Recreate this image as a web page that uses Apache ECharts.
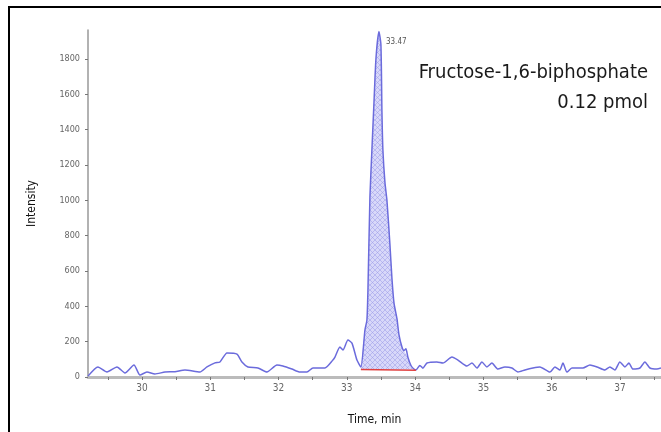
<!DOCTYPE html>
<html>
<head>
<meta charset="utf-8">
<script src="https://cdn.jsdelivr.net/npm/echarts@6/dist/echarts.min.js"></script>
<style>
  html, body { margin: 0; padding: 0; background: #fff; }
  #chart { width: 661px; height: 432px; }
</style>
</head>
<body>
<div id="chart"></div>
<script>
// chromatogram trace
var times = [29.21, 29.356, 29.488, 29.634, 29.751, 29.883, 29.971, 30.073, 30.19, 30.337,
  30.483, 30.63, 30.849, 30.952, 31.069, 31.142, 31.245, 31.391, 31.464, 31.552,
  31.698, 31.83, 31.977, 32.064, 32.196, 32.313, 32.416, 32.504, 32.679, 32.796,
  32.826, 32.899, 32.943, 33.016, 33.075, 33.148, 33.206, 33.265, 33.294, 33.309,
  33.338, 33.367, 33.397, 33.426, 33.47, 33.499, 33.514, 33.528, 33.558, 33.587,
  33.631, 33.66, 33.69, 33.734, 33.763, 33.807, 33.836, 33.865, 33.895, 33.939,
  33.982, 34.012, 34.07, 34.114, 34.173, 34.319, 34.407, 34.539, 34.627, 34.758,
  34.832, 34.905, 34.978, 35.051, 35.124, 35.212, 35.315, 35.417, 35.505, 35.608,
  35.725, 35.827, 35.974, 36.047, 36.12, 36.164, 36.223, 36.296, 36.457, 36.559,
  36.662, 36.779, 36.852, 36.925, 36.998, 37.072, 37.13, 37.189, 37.291, 37.364,
  37.438, 37.54, 37.6];
var intensity = [5, 57, 28, 57, 23, 68, 11, 28, 17, 28,
  30, 40, 28, 57, 80, 85, 136, 130, 85, 57,
  51, 28, 68, 62, 45, 28, 28, 51, 51, 96,
  113, 170, 153, 209, 192, 96, 57, 266, 323, 492,
  1019, 1285, 1550, 1800, 1955, 1880, 1500, 1285, 1100, 1000,
  750, 560, 420, 330, 240, 170, 150, 160, 110, 65,
  45, 40, 65, 50, 79, 85, 79, 113, 96, 62,
  79, 51, 85, 57, 79, 45, 57, 51, 28, 40,
  51, 57, 28, 57, 40, 79, 28, 51, 51, 68,
  57, 40, 57, 40, 85, 57, 79, 45, 51, 85,
  51, 45, 51];

var peakFrom = 33.206, peakTo = 34.012;
var peakTime = 33.47, peakLabel = '33.47';
var baseline = [43, 38];          // integration baseline at peakFrom / peakTo
var yTicks = [0, 200, 400, 600, 800, 1000, 1200, 1400, 1600, 1800];
var xTicks = [30, 31, 32, 33, 34, 35, 36, 37];
var xMinor = [29.5, 30, 30.5, 31, 31.5, 32, 32.5, 33, 33.5, 34, 34.5, 35, 35.5, 36, 36.5, 37, 37.5];
var compound = 'Fructose-1,6-biphosphate';
var amount = '0.12 pmol';

var trace = times.map(function(t, i) { return [t, intensity[i]]; });
var peak = trace.filter(function(p) { return p[0] >= peakFrom && p[0] <= peakTo; });
var apex = trace[times.indexOf(peakTime)];

// hatched fill for the integrated area
var pat = document.createElement('canvas');
pat.width = 5; pat.height = 5;
var g = pat.getContext('2d');
g.fillStyle = 'rgba(212,212,248,0.9)';
g.fillRect(0, 0, 5, 5);
g.strokeStyle = 'rgba(150,150,230,0.7)';
g.lineWidth = 0.7;
g.beginPath();
g.moveTo(0, 0); g.lineTo(5, 5);
g.moveTo(5, 0); g.lineTo(0, 5);
g.stroke();

var tickFont = "'Liberation Sans Narrow', 'DejaVu Sans Condensed', sans-serif";

var chart = echarts.init(document.getElementById('chart'));
chart.setOption({
  animation: false,
  backgroundColor: '#fff',
  grid: { left: 88, right: 0, top: 30, bottom: 55 },
  xAxis: {
    type: 'value',
    min: 29.21,
    max: 37.6,
    name: 'Time, min',
    nameLocation: 'middle',
    nameGap: 37,
    nameTextStyle: { fontFamily: tickFont, fontSize: 12, color: '#111' },
    axisLine: { lineStyle: { color: '#bbb', width: 3 } },
    axisTick: { customValues: xMinor, length: 3, lineStyle: { color: '#777' } },
    axisLabel: { customValues: xTicks, fontFamily: tickFont, fontSize: 10, color: '#666', margin: 6 },
    splitLine: { show: false }
  },
  yAxis: {
    type: 'value',
    min: 0,
    max: 1964,
    name: 'Intensity',
    nameLocation: 'middle',
    nameGap: 50,
    nameTextStyle: { fontFamily: tickFont, fontSize: 12, color: '#111' },
    axisLine: { show: true, lineStyle: { color: '#999', width: 1.5 } },
    axisTick: { customValues: yTicks, length: 3, lineStyle: { color: '#777' } },
    axisLabel: {
      customValues: yTicks, fontFamily: tickFont, fontSize: 9, color: '#666', margin: 8,
      formatter: function(v) { return String(v); }
    },
    splitLine: { show: false }
  },
  series: [
    {
      type: 'line',
      data: peak,
      symbol: 'none',
      z: 2,
      lineStyle: { width: 0 },
      areaStyle: { origin: baseline[0], color: { image: pat, repeat: 'repeat' }, opacity: 1 }
    },
    {
      type: 'line',
      data: [[peakFrom, baseline[0]], [peakTo, baseline[1]]],
      symbol: 'none',
      z: 4,
      lineStyle: { color: '#e04040', width: 1.5 }
    },
    {
      type: 'line',
      data: trace,
      symbol: 'none',
      z: 3,
      smooth: 0.2,
      lineStyle: { color: '#6b6bdc', width: 1.5 },
      markPoint: {
        symbol: 'circle',
        symbolSize: 0,
        data: [{ coord: apex }],
        label: {
          show: true, formatter: peakLabel, position: 'right', offset: [2, 10],
          fontFamily: tickFont, fontSize: 8, color: '#555'
        }
      }
    }
  ],
  graphic: [
    {
      type: 'rect',
      shape: { x: 9, y: 7, width: 700, height: 500 },
      style: { fill: 'none', stroke: '#000', lineWidth: 2 },
      silent: true
    },
    {
      type: 'text',
      right: 13,
      top: 63,
      style: { text: compound, fontFamily: tickFont, fontSize: 20, fill: '#1a1a1a' }
    },
    {
      type: 'text',
      right: 13,
      top: 93,
      style: { text: amount, fontFamily: tickFont, fontSize: 20, fill: '#1a1a1a' }
    }
  ]
});
</script>
</body>
</html>
